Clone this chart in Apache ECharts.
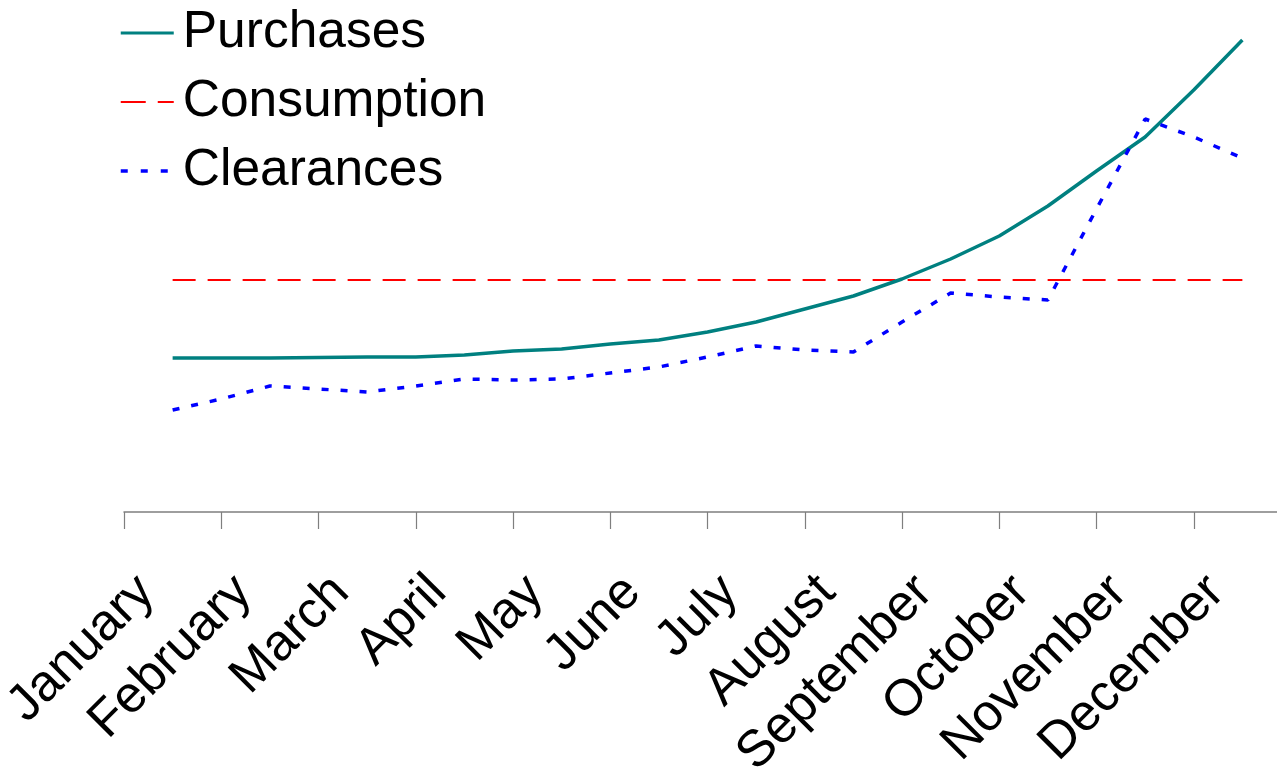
<!DOCTYPE html>
<html>
<head>
<meta charset="utf-8">
<script src="https://cdn.jsdelivr.net/npm/echarts@6/dist/echarts.min.js"></script>
<style>
  html, body { margin: 0; padding: 0; background: #ffffff; }
  #chart { width: 1277px; height: 772px; }
</style>
</head>
<body>
<div id="chart"></div>
<script>
// Month labels along the bottom axis
const months = ['January', 'February', 'March', 'April', 'May', 'June',
  'July', 'August', 'September', 'October', 'November', 'December'];

// Readings are taken twice a month, from mid-January to mid-December
const periods = [0, 0.5, 1, 1.5, 2, 2.5, 3, 3.5, 4, 4.5, 5, 5.5,
  6, 6.5, 7, 7.5, 8, 8.5, 9, 9.5, 10, 10.5, 11];

const purchases = [15.4, 15.4, 15.4, 15.45, 15.5, 15.5, 15.7, 16.1, 16.3, 16.8, 17.2, 18.0,
  19.0, 20.3, 21.6, 23.3, 25.3, 27.6, 30.6, 34.1, 37.5, 42.2, 47.2];

const consumption = [23.2, 23.2, 23.2, 23.2, 23.2, 23.2, 23.2, 23.2, 23.2, 23.2, 23.2, 23.2,
  23.2, 23.2, 23.2, 23.2, 23.2, 23.2, 23.2, 23.2, 23.2, 23.2, 23.2];

const clearances = [10.2, 11.3, 12.6, 12.3, 12.0, 12.6, 13.3, 13.2, 13.3, 13.9, 14.5, 15.5,
  16.6, 16.2, 16.0, 19.0, 21.9, 21.5, 21.2, 30.3, 39.3, 37.5, 35.4];

const pair = (vals) => vals.map((v, i) => [periods[i], v]);

const FONT = '"Liberation Sans", Arial, Helvetica, sans-serif';

const chart = echarts.init(document.getElementById('chart'), null, { renderer: 'canvas' });

chart.setOption({
  animation: false,
  backgroundColor: '#ffffff',
  grid: {
    left: 124, top: 12, width: 1167, height: 500,
    containLabel: false,
    outerBoundsMode: 'none'
  },
  legend: {
    orient: 'vertical',
    left: 114,
    top: 2,
    padding: 5,
    itemWidth: 53,
    itemHeight: 14,
    itemGap: 17,
    itemStyle: { opacity: 0 },
    textStyle: {
      fontFamily: FONT,
      fontSize: 51.5,
      lineHeight: 49,
      color: '#000000',
      padding: [0, 0, 0, 4]
    },
    data: [
      { name: 'Purchases', lineStyle: { width: 3, color: '#008080', type: 'solid' } },
      { name: 'Consumption', lineStyle: { width: 2, color: '#ff0000', type: [25, 12] } },
      { name: 'Clearances', lineStyle: { width: 3.5, color: '#0000ff', type: [7, 13] } }
    ]
  },
  xAxis: [
    {
      type: 'category',
      data: months,
      boundaryGap: true,
      axisLine: { show: true, lineStyle: { color: '#7f7f7f', width: 1.5 } },
      axisTick: { show: true, length: 17, lineStyle: { color: '#7f7f7f', width: 1.2 } },
      axisLabel: {
        interval: 0,
        rotate: 45,
        margin: 46,
        fontFamily: FONT,
        fontSize: 51.5,
        color: '#000000',
        padding: [0, 37, 0, 0]
      },
      splitLine: { show: false }
    },
    {
      type: 'value',
      min: -0.5,
      max: 11.5,
      show: false
    }
  ],
  yAxis: {
    type: 'value',
    min: 0,
    max: 50,
    show: false,
    splitLine: { show: false }
  },
  series: [
    {
      name: 'Purchases',
      type: 'line',
      xAxisIndex: 1,
      data: pair(purchases),
      symbol: 'none',
      lineStyle: { color: '#008080', width: 3.5, type: 'solid' },
      itemStyle: { color: '#008080' },
      z: 3
    },
    {
      name: 'Consumption',
      type: 'line',
      xAxisIndex: 1,
      data: pair(consumption),
      symbol: 'none',
      lineStyle: { color: '#ff0000', width: 2, type: [23, 12] },
      itemStyle: { color: '#ff0000' },
      z: 2
    },
    {
      name: 'Clearances',
      type: 'line',
      xAxisIndex: 1,
      data: pair(clearances),
      symbol: 'none',
      lineStyle: { color: '#0000ff', width: 3.5, type: [7, 12] },
      itemStyle: { color: '#0000ff' },
      z: 4
    }
  ]
});
</script>
</body>
</html>
